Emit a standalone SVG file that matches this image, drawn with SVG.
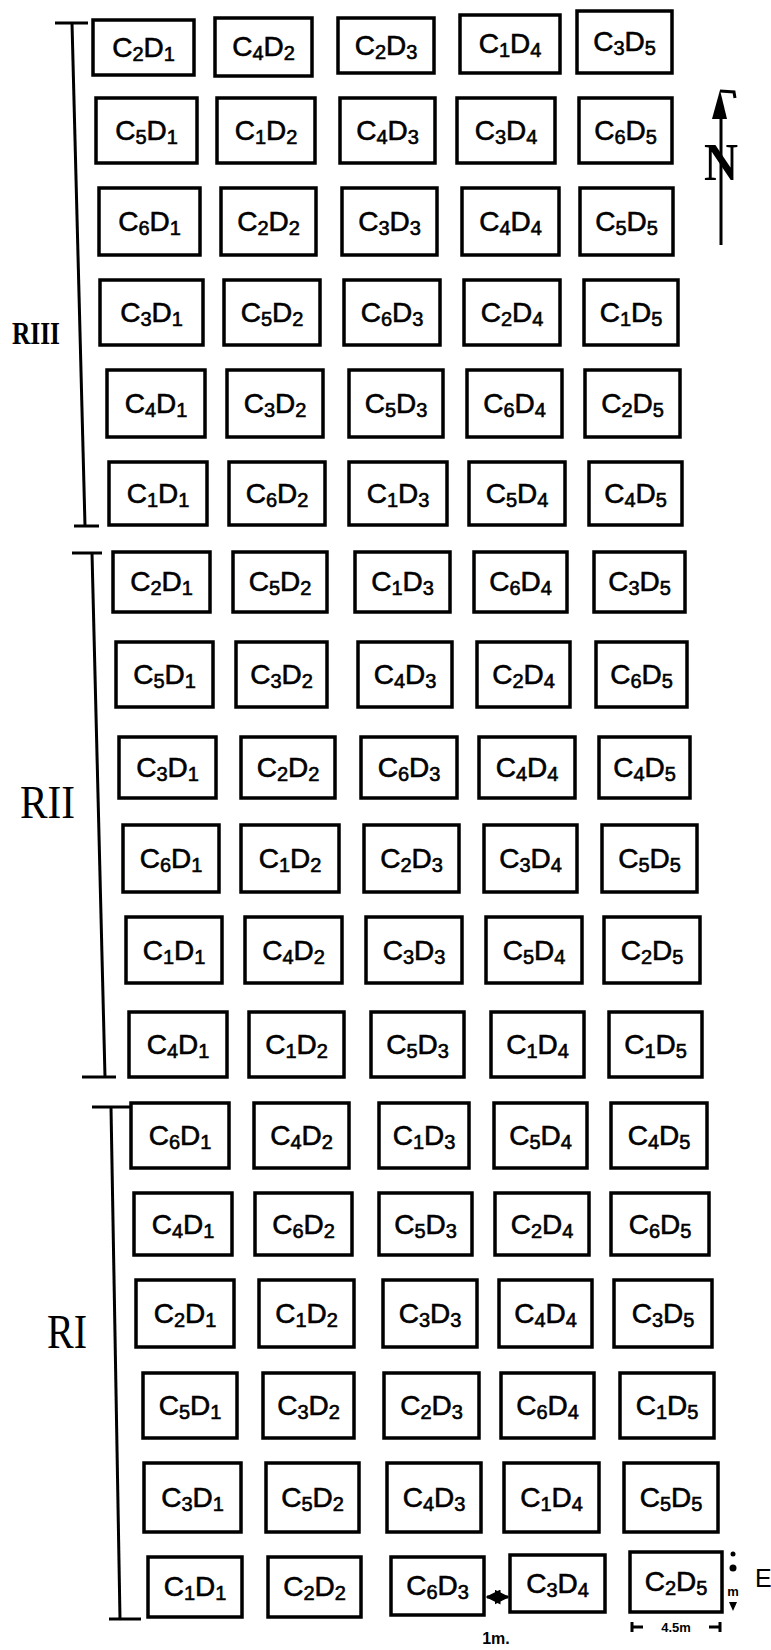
<svg xmlns="http://www.w3.org/2000/svg" width="771" height="1650" viewBox="0 0 771 1650">
<style>
.b{fill:none;stroke:#000;stroke-width:3.5}
.t{font-family:"Liberation Sans",Arial,sans-serif;font-size:28px;fill:#000;stroke:#000;stroke-width:0.6;text-anchor:middle}
.s{font-size:20px}
.l{stroke:#000;stroke-width:3;fill:none}
.lab{font-family:"Liberation Serif","Times New Roman",serif;fill:#000}
.dim{font-family:"Liberation Sans",Arial,sans-serif;font-weight:bold;fill:#000}
</style>
<defs>
<marker id="ah" viewBox="0 0 10 10" refX="9" refY="5" markerWidth="5" markerHeight="5" orient="auto-start-reverse" markerUnits="strokeWidth">
<path d="M0,0 L10,5 L0,10 z" fill="#000"/>
</marker>
</defs>
<rect width="771" height="1650" fill="#fff"/>

<!-- replication brackets and labels -->
<g id="RIII">
<line class="l" x1="72" y1="23" x2="85" y2="526"/>
<line class="l" x1="55" y1="23" x2="88" y2="23"/>
<line class="l" x1="74" y1="526" x2="99" y2="526"/>
<text class="lab" x="12" y="344" font-size="32" font-weight="bold" textLength="48" lengthAdjust="spacingAndGlyphs">RIII</text>
</g>
<g id="RII">
<line class="l" x1="92" y1="553" x2="105" y2="1077"/>
<line class="l" x1="72" y1="553" x2="102" y2="553"/>
<line class="l" x1="82" y1="1077" x2="116" y2="1077"/>
<text class="lab" x="20" y="818" font-size="46" textLength="55" lengthAdjust="spacingAndGlyphs">RII</text>
</g>
<g id="RI">
<line class="l" x1="111" y1="1107" x2="120" y2="1619"/>
<line class="l" x1="92" y1="1107" x2="131" y2="1107"/>
<line class="l" x1="109" y1="1619" x2="141" y2="1619"/>
<text class="lab" x="47" y="1348" font-size="48" textLength="40" lengthAdjust="spacingAndGlyphs">RI</text>
</g>

<!-- north arrow -->
<g id="north">
<line class="l" x1="721" y1="245" x2="721" y2="104"/>
<path d="M720,90 L712,119 L727,119 Z" fill="#000"/>
<path d="M720,91 L734,92 L735,98" class="l" stroke-width="2.5"/>
<text class="lab" x="704" y="180" font-size="52" font-weight="bold" textLength="34" lengthAdjust="spacingAndGlyphs">N</text>
</g>

<!-- Row 1 -->
<g id="r1c1"><rect class="b" x="93" y="20" width="101" height="55"/><text class="t" x="143.5" y="57">C<tspan class="s" dy="4">2</tspan><tspan dy="-4">D</tspan><tspan class="s" dy="4">1</tspan></text></g>
<g id="r1c2"><rect class="b" x="215" y="18" width="97" height="58"/><text class="t" x="263.5" y="56">C<tspan class="s" dy="4">4</tspan><tspan dy="-4">D</tspan><tspan class="s" dy="4">2</tspan></text></g>
<g id="r1c3"><rect class="b" x="338" y="18" width="96" height="55"/><text class="t" x="386" y="55">C<tspan class="s" dy="4">2</tspan><tspan dy="-4">D</tspan><tspan class="s" dy="4">3</tspan></text></g>
<g id="r1c4"><rect class="b" x="460" y="15" width="100" height="58"/><text class="t" x="510" y="53">C<tspan class="s" dy="4">1</tspan><tspan dy="-4">D</tspan><tspan class="s" dy="4">4</tspan></text></g>
<g id="r1c5"><rect class="b" x="577" y="11" width="95" height="62"/><text class="t" x="624.5" y="51">C<tspan class="s" dy="4">3</tspan><tspan dy="-4">D</tspan><tspan class="s" dy="4">5</tspan></text></g>

<!-- Row 2 -->
<g id="r2c1"><rect class="b" x="96" y="98" width="101" height="65"/><text class="t" x="146.5" y="140">C<tspan class="s" dy="4">5</tspan><tspan dy="-4">D</tspan><tspan class="s" dy="4">1</tspan></text></g>
<g id="r2c2"><rect class="b" x="217" y="98" width="98" height="65"/><text class="t" x="266" y="140">C<tspan class="s" dy="4">1</tspan><tspan dy="-4">D</tspan><tspan class="s" dy="4">2</tspan></text></g>
<g id="r2c3"><rect class="b" x="340" y="98" width="95" height="65"/><text class="t" x="387.5" y="140">C<tspan class="s" dy="4">4</tspan><tspan dy="-4">D</tspan><tspan class="s" dy="4">3</tspan></text></g>
<g id="r2c4"><rect class="b" x="457" y="98" width="98" height="65"/><text class="t" x="506" y="140">C<tspan class="s" dy="4">3</tspan><tspan dy="-4">D</tspan><tspan class="s" dy="4">4</tspan></text></g>
<g id="r2c5"><rect class="b" x="579" y="98" width="93" height="65"/><text class="t" x="625.5" y="140">C<tspan class="s" dy="4">6</tspan><tspan dy="-4">D</tspan><tspan class="s" dy="4">5</tspan></text></g>

<!-- Row 3 -->
<g id="r3c1"><rect class="b" x="99" y="188" width="101" height="67"/><text class="t" x="149.5" y="231">C<tspan class="s" dy="4">6</tspan><tspan dy="-4">D</tspan><tspan class="s" dy="4">1</tspan></text></g>
<g id="r3c2"><rect class="b" x="221" y="188" width="95" height="67"/><text class="t" x="268.5" y="231">C<tspan class="s" dy="4">2</tspan><tspan dy="-4">D</tspan><tspan class="s" dy="4">2</tspan></text></g>
<g id="r3c3"><rect class="b" x="342" y="188" width="95" height="67"/><text class="t" x="389.5" y="231">C<tspan class="s" dy="4">3</tspan><tspan dy="-4">D</tspan><tspan class="s" dy="4">3</tspan></text></g>
<g id="r3c4"><rect class="b" x="462" y="188" width="97" height="67"/><text class="t" x="510.5" y="231">C<tspan class="s" dy="4">4</tspan><tspan dy="-4">D</tspan><tspan class="s" dy="4">4</tspan></text></g>
<g id="r3c5"><rect class="b" x="580" y="188" width="93" height="67"/><text class="t" x="626.5" y="231">C<tspan class="s" dy="4">5</tspan><tspan dy="-4">D</tspan><tspan class="s" dy="4">5</tspan></text></g>

<!-- Row 4 -->
<g id="r4c1"><rect class="b" x="100" y="280" width="103" height="65"/><text class="t" x="151.5" y="322">C<tspan class="s" dy="4">3</tspan><tspan dy="-4">D</tspan><tspan class="s" dy="4">1</tspan></text></g>
<g id="r4c2"><rect class="b" x="224" y="280" width="96" height="65"/><text class="t" x="272" y="322">C<tspan class="s" dy="4">5</tspan><tspan dy="-4">D</tspan><tspan class="s" dy="4">2</tspan></text></g>
<g id="r4c3"><rect class="b" x="344" y="280" width="96" height="65"/><text class="t" x="392" y="322">C<tspan class="s" dy="4">6</tspan><tspan dy="-4">D</tspan><tspan class="s" dy="4">3</tspan></text></g>
<g id="r4c4"><rect class="b" x="464" y="280" width="96" height="65"/><text class="t" x="512" y="322">C<tspan class="s" dy="4">2</tspan><tspan dy="-4">D</tspan><tspan class="s" dy="4">4</tspan></text></g>
<g id="r4c5"><rect class="b" x="584" y="280" width="94" height="65"/><text class="t" x="631" y="322">C<tspan class="s" dy="4">1</tspan><tspan dy="-4">D</tspan><tspan class="s" dy="4">5</tspan></text></g>

<!-- Row 5 -->
<g id="r5c1"><rect class="b" x="107" y="370" width="98" height="67"/><text class="t" x="156" y="413">C<tspan class="s" dy="4">4</tspan><tspan dy="-4">D</tspan><tspan class="s" dy="4">1</tspan></text></g>
<g id="r5c2"><rect class="b" x="227" y="370" width="96" height="67"/><text class="t" x="275" y="413">C<tspan class="s" dy="4">3</tspan><tspan dy="-4">D</tspan><tspan class="s" dy="4">2</tspan></text></g>
<g id="r5c3"><rect class="b" x="349" y="370" width="94" height="67"/><text class="t" x="396" y="413">C<tspan class="s" dy="4">5</tspan><tspan dy="-4">D</tspan><tspan class="s" dy="4">3</tspan></text></g>
<g id="r5c4"><rect class="b" x="467" y="370" width="95" height="67"/><text class="t" x="514.5" y="413">C<tspan class="s" dy="4">6</tspan><tspan dy="-4">D</tspan><tspan class="s" dy="4">4</tspan></text></g>
<g id="r5c5"><rect class="b" x="585" y="370" width="95" height="67"/><text class="t" x="632.5" y="413">C<tspan class="s" dy="4">2</tspan><tspan dy="-4">D</tspan><tspan class="s" dy="4">5</tspan></text></g>

<!-- Row 6 -->
<g id="r6c1"><rect class="b" x="109" y="462" width="98" height="63"/><text class="t" x="158" y="503">C<tspan class="s" dy="4">1</tspan><tspan dy="-4">D</tspan><tspan class="s" dy="4">1</tspan></text></g>
<g id="r6c2"><rect class="b" x="229" y="462" width="96" height="63"/><text class="t" x="277" y="503">C<tspan class="s" dy="4">6</tspan><tspan dy="-4">D</tspan><tspan class="s" dy="4">2</tspan></text></g>
<g id="r6c3"><rect class="b" x="349" y="462" width="98" height="63"/><text class="t" x="398" y="503">C<tspan class="s" dy="4">1</tspan><tspan dy="-4">D</tspan><tspan class="s" dy="4">3</tspan></text></g>
<g id="r6c4"><rect class="b" x="469" y="462" width="96" height="63"/><text class="t" x="517" y="503">C<tspan class="s" dy="4">5</tspan><tspan dy="-4">D</tspan><tspan class="s" dy="4">4</tspan></text></g>
<g id="r6c5"><rect class="b" x="589" y="462" width="93" height="63"/><text class="t" x="635.5" y="503">C<tspan class="s" dy="4">4</tspan><tspan dy="-4">D</tspan><tspan class="s" dy="4">5</tspan></text></g>

<!-- Row 7 -->
<g id="r7c1"><rect class="b" x="113" y="552" width="97" height="60"/><text class="t" x="161.5" y="591">C<tspan class="s" dy="4">2</tspan><tspan dy="-4">D</tspan><tspan class="s" dy="4">1</tspan></text></g>
<g id="r7c2"><rect class="b" x="233" y="552" width="94" height="60"/><text class="t" x="280" y="591">C<tspan class="s" dy="4">5</tspan><tspan dy="-4">D</tspan><tspan class="s" dy="4">2</tspan></text></g>
<g id="r7c3"><rect class="b" x="355" y="552" width="95" height="60"/><text class="t" x="402.5" y="591">C<tspan class="s" dy="4">1</tspan><tspan dy="-4">D</tspan><tspan class="s" dy="4">3</tspan></text></g>
<g id="r7c4"><rect class="b" x="474" y="552" width="93" height="60"/><text class="t" x="520.5" y="591">C<tspan class="s" dy="4">6</tspan><tspan dy="-4">D</tspan><tspan class="s" dy="4">4</tspan></text></g>
<g id="r7c5"><rect class="b" x="594" y="552" width="91" height="60"/><text class="t" x="639.5" y="591">C<tspan class="s" dy="4">3</tspan><tspan dy="-4">D</tspan><tspan class="s" dy="4">5</tspan></text></g>

<!-- Row 8 -->
<g id="r8c1"><rect class="b" x="116" y="642" width="97" height="65"/><text class="t" x="164.5" y="684">C<tspan class="s" dy="4">5</tspan><tspan dy="-4">D</tspan><tspan class="s" dy="4">1</tspan></text></g>
<g id="r8c2"><rect class="b" x="236" y="642" width="91" height="65"/><text class="t" x="281.5" y="684">C<tspan class="s" dy="4">3</tspan><tspan dy="-4">D</tspan><tspan class="s" dy="4">2</tspan></text></g>
<g id="r8c3"><rect class="b" x="358" y="642" width="94" height="65"/><text class="t" x="405" y="684">C<tspan class="s" dy="4">4</tspan><tspan dy="-4">D</tspan><tspan class="s" dy="4">3</tspan></text></g>
<g id="r8c4"><rect class="b" x="477" y="642" width="93" height="65"/><text class="t" x="523.5" y="684">C<tspan class="s" dy="4">2</tspan><tspan dy="-4">D</tspan><tspan class="s" dy="4">4</tspan></text></g>
<g id="r8c5"><rect class="b" x="596" y="642" width="91" height="65"/><text class="t" x="641.5" y="684">C<tspan class="s" dy="4">6</tspan><tspan dy="-4">D</tspan><tspan class="s" dy="4">5</tspan></text></g>

<!-- Row 9 -->
<g id="r9c1"><rect class="b" x="119" y="737" width="97" height="61"/><text class="t" x="167.5" y="777">C<tspan class="s" dy="4">3</tspan><tspan dy="-4">D</tspan><tspan class="s" dy="4">1</tspan></text></g>
<g id="r9c2"><rect class="b" x="241" y="737" width="94" height="61"/><text class="t" x="288" y="777">C<tspan class="s" dy="4">2</tspan><tspan dy="-4">D</tspan><tspan class="s" dy="4">2</tspan></text></g>
<g id="r9c3"><rect class="b" x="361" y="737" width="96" height="61"/><text class="t" x="409" y="777">C<tspan class="s" dy="4">6</tspan><tspan dy="-4">D</tspan><tspan class="s" dy="4">3</tspan></text></g>
<g id="r9c4"><rect class="b" x="479" y="737" width="96" height="61"/><text class="t" x="527" y="777">C<tspan class="s" dy="4">4</tspan><tspan dy="-4">D</tspan><tspan class="s" dy="4">4</tspan></text></g>
<g id="r9c5"><rect class="b" x="599" y="737" width="91" height="61"/><text class="t" x="644.5" y="777">C<tspan class="s" dy="4">4</tspan><tspan dy="-4">D</tspan><tspan class="s" dy="4">5</tspan></text></g>

<!-- Row 10 -->
<g id="r10c1"><rect class="b" x="123" y="825" width="96" height="67"/><text class="t" x="171" y="868">C<tspan class="s" dy="4">6</tspan><tspan dy="-4">D</tspan><tspan class="s" dy="4">1</tspan></text></g>
<g id="r10c2"><rect class="b" x="241" y="825" width="98" height="67"/><text class="t" x="290" y="868">C<tspan class="s" dy="4">1</tspan><tspan dy="-4">D</tspan><tspan class="s" dy="4">2</tspan></text></g>
<g id="r10c3"><rect class="b" x="364" y="825" width="95" height="67"/><text class="t" x="411.5" y="868">C<tspan class="s" dy="4">2</tspan><tspan dy="-4">D</tspan><tspan class="s" dy="4">3</tspan></text></g>
<g id="r10c4"><rect class="b" x="484" y="825" width="93" height="67"/><text class="t" x="530.5" y="868">C<tspan class="s" dy="4">3</tspan><tspan dy="-4">D</tspan><tspan class="s" dy="4">4</tspan></text></g>
<g id="r10c5"><rect class="b" x="602" y="825" width="95" height="67"/><text class="t" x="649.5" y="868">C<tspan class="s" dy="4">5</tspan><tspan dy="-4">D</tspan><tspan class="s" dy="4">5</tspan></text></g>

<!-- Row 11 -->
<g id="r11c1"><rect class="b" x="126" y="917" width="96" height="66"/><text class="t" x="174" y="960">C<tspan class="s" dy="4">1</tspan><tspan dy="-4">D</tspan><tspan class="s" dy="4">1</tspan></text></g>
<g id="r11c2"><rect class="b" x="245" y="917" width="97" height="66"/><text class="t" x="293.5" y="960">C<tspan class="s" dy="4">4</tspan><tspan dy="-4">D</tspan><tspan class="s" dy="4">2</tspan></text></g>
<g id="r11c3"><rect class="b" x="366" y="917" width="96" height="66"/><text class="t" x="414" y="960">C<tspan class="s" dy="4">3</tspan><tspan dy="-4">D</tspan><tspan class="s" dy="4">3</tspan></text></g>
<g id="r11c4"><rect class="b" x="486" y="917" width="96" height="66"/><text class="t" x="534" y="960">C<tspan class="s" dy="4">5</tspan><tspan dy="-4">D</tspan><tspan class="s" dy="4">4</tspan></text></g>
<g id="r11c5"><rect class="b" x="604" y="917" width="96" height="66"/><text class="t" x="652" y="960">C<tspan class="s" dy="4">2</tspan><tspan dy="-4">D</tspan><tspan class="s" dy="4">5</tspan></text></g>

<!-- Row 12 -->
<g id="r12c1"><rect class="b" x="129" y="1012" width="98" height="65"/><text class="t" x="178" y="1054">C<tspan class="s" dy="4">4</tspan><tspan dy="-4">D</tspan><tspan class="s" dy="4">1</tspan></text></g>
<g id="r12c2"><rect class="b" x="249" y="1012" width="95" height="65"/><text class="t" x="296.5" y="1054">C<tspan class="s" dy="4">1</tspan><tspan dy="-4">D</tspan><tspan class="s" dy="4">2</tspan></text></g>
<g id="r12c3"><rect class="b" x="371" y="1012" width="93" height="65"/><text class="t" x="417.5" y="1054">C<tspan class="s" dy="4">5</tspan><tspan dy="-4">D</tspan><tspan class="s" dy="4">3</tspan></text></g>
<g id="r12c4"><rect class="b" x="491" y="1012" width="93" height="65"/><text class="t" x="537.5" y="1054">C<tspan class="s" dy="4">1</tspan><tspan dy="-4">D</tspan><tspan class="s" dy="4">4</tspan></text></g>
<g id="r12c5"><rect class="b" x="609" y="1012" width="93" height="65"/><text class="t" x="655.5" y="1054">C<tspan class="s" dy="4">1</tspan><tspan dy="-4">D</tspan><tspan class="s" dy="4">5</tspan></text></g>

<!-- Row 13 -->
<g id="r13c1"><rect class="b" x="131" y="1103" width="98" height="65"/><text class="t" x="180" y="1145">C<tspan class="s" dy="4">6</tspan><tspan dy="-4">D</tspan><tspan class="s" dy="4">1</tspan></text></g>
<g id="r13c2"><rect class="b" x="254" y="1103" width="95" height="65"/><text class="t" x="301.5" y="1145">C<tspan class="s" dy="4">4</tspan><tspan dy="-4">D</tspan><tspan class="s" dy="4">2</tspan></text></g>
<g id="r13c3"><rect class="b" x="379" y="1103" width="90" height="65"/><text class="t" x="424" y="1145">C<tspan class="s" dy="4">1</tspan><tspan dy="-4">D</tspan><tspan class="s" dy="4">3</tspan></text></g>
<g id="r13c4"><rect class="b" x="494" y="1103" width="93" height="65"/><text class="t" x="540.5" y="1145">C<tspan class="s" dy="4">5</tspan><tspan dy="-4">D</tspan><tspan class="s" dy="4">4</tspan></text></g>
<g id="r13c5"><rect class="b" x="611" y="1103" width="96" height="65"/><text class="t" x="659" y="1145">C<tspan class="s" dy="4">4</tspan><tspan dy="-4">D</tspan><tspan class="s" dy="4">5</tspan></text></g>

<!-- Row 14 -->
<g id="r14c1"><rect class="b" x="134" y="1193" width="98" height="62"/><text class="t" x="183" y="1234">C<tspan class="s" dy="4">4</tspan><tspan dy="-4">D</tspan><tspan class="s" dy="4">1</tspan></text></g>
<g id="r14c2"><rect class="b" x="255" y="1193" width="97" height="62"/><text class="t" x="303.5" y="1234">C<tspan class="s" dy="4">6</tspan><tspan dy="-4">D</tspan><tspan class="s" dy="4">2</tspan></text></g>
<g id="r14c3"><rect class="b" x="379" y="1193" width="93" height="62"/><text class="t" x="425.5" y="1234">C<tspan class="s" dy="4">5</tspan><tspan dy="-4">D</tspan><tspan class="s" dy="4">3</tspan></text></g>
<g id="r14c4"><rect class="b" x="495" y="1193" width="94" height="62"/><text class="t" x="542" y="1234">C<tspan class="s" dy="4">2</tspan><tspan dy="-4">D</tspan><tspan class="s" dy="4">4</tspan></text></g>
<g id="r14c5"><rect class="b" x="611" y="1193" width="98" height="62"/><text class="t" x="660" y="1234">C<tspan class="s" dy="4">6</tspan><tspan dy="-4">D</tspan><tspan class="s" dy="4">5</tspan></text></g>

<!-- Row 15 -->
<g id="r15c1"><rect class="b" x="136" y="1280" width="98" height="67"/><text class="t" x="185" y="1323">C<tspan class="s" dy="4">2</tspan><tspan dy="-4">D</tspan><tspan class="s" dy="4">1</tspan></text></g>
<g id="r15c2"><rect class="b" x="259" y="1280" width="95" height="67"/><text class="t" x="306.5" y="1323">C<tspan class="s" dy="4">1</tspan><tspan dy="-4">D</tspan><tspan class="s" dy="4">2</tspan></text></g>
<g id="r15c3"><rect class="b" x="383" y="1280" width="94" height="67"/><text class="t" x="430" y="1323">C<tspan class="s" dy="4">3</tspan><tspan dy="-4">D</tspan><tspan class="s" dy="4">3</tspan></text></g>
<g id="r15c4"><rect class="b" x="499" y="1280" width="93" height="67"/><text class="t" x="545.5" y="1323">C<tspan class="s" dy="4">4</tspan><tspan dy="-4">D</tspan><tspan class="s" dy="4">4</tspan></text></g>
<g id="r15c5"><rect class="b" x="614" y="1280" width="98" height="67"/><text class="t" x="663" y="1323">C<tspan class="s" dy="4">3</tspan><tspan dy="-4">D</tspan><tspan class="s" dy="4">5</tspan></text></g>

<!-- Row 16 -->
<g id="r16c1"><rect class="b" x="143" y="1373" width="94" height="65"/><text class="t" x="190" y="1415">C<tspan class="s" dy="4">5</tspan><tspan dy="-4">D</tspan><tspan class="s" dy="4">1</tspan></text></g>
<g id="r16c2"><rect class="b" x="263" y="1373" width="91" height="65"/><text class="t" x="308.5" y="1415">C<tspan class="s" dy="4">3</tspan><tspan dy="-4">D</tspan><tspan class="s" dy="4">2</tspan></text></g>
<g id="r16c3"><rect class="b" x="384" y="1373" width="95" height="65"/><text class="t" x="431.5" y="1415">C<tspan class="s" dy="4">2</tspan><tspan dy="-4">D</tspan><tspan class="s" dy="4">3</tspan></text></g>
<g id="r16c4"><rect class="b" x="501" y="1373" width="93" height="65"/><text class="t" x="547.5" y="1415">C<tspan class="s" dy="4">6</tspan><tspan dy="-4">D</tspan><tspan class="s" dy="4">4</tspan></text></g>
<g id="r16c5"><rect class="b" x="620" y="1373" width="94" height="65"/><text class="t" x="667" y="1415">C<tspan class="s" dy="4">1</tspan><tspan dy="-4">D</tspan><tspan class="s" dy="4">5</tspan></text></g>

<!-- Row 17 -->
<g id="r17c1"><rect class="b" x="144" y="1463" width="97" height="69"/><text class="t" x="192.5" y="1507">C<tspan class="s" dy="4">3</tspan><tspan dy="-4">D</tspan><tspan class="s" dy="4">1</tspan></text></g>
<g id="r17c2"><rect class="b" x="266" y="1463" width="93" height="69"/><text class="t" x="312.5" y="1507">C<tspan class="s" dy="4">5</tspan><tspan dy="-4">D</tspan><tspan class="s" dy="4">2</tspan></text></g>
<g id="r17c3"><rect class="b" x="387" y="1463" width="94" height="69"/><text class="t" x="434" y="1507">C<tspan class="s" dy="4">4</tspan><tspan dy="-4">D</tspan><tspan class="s" dy="4">3</tspan></text></g>
<g id="r17c4"><rect class="b" x="504" y="1463" width="95" height="69"/><text class="t" x="551.5" y="1507">C<tspan class="s" dy="4">1</tspan><tspan dy="-4">D</tspan><tspan class="s" dy="4">4</tspan></text></g>
<g id="r17c5"><rect class="b" x="624" y="1463" width="94" height="69"/><text class="t" x="671" y="1507">C<tspan class="s" dy="4">5</tspan><tspan dy="-4">D</tspan><tspan class="s" dy="4">5</tspan></text></g>

<!-- Row 18 -->
<g id="r18c1"><rect class="b" x="148" y="1557" width="94" height="60"/><text class="t" x="195" y="1596">C<tspan class="s" dy="4">1</tspan><tspan dy="-4">D</tspan><tspan class="s" dy="4">1</tspan></text></g>
<g id="r18c2"><rect class="b" x="268" y="1557" width="93" height="60"/><text class="t" x="314.5" y="1596">C<tspan class="s" dy="4">2</tspan><tspan dy="-4">D</tspan><tspan class="s" dy="4">2</tspan></text></g>
<g id="r18c3"><rect class="b" x="391" y="1557" width="93" height="58"/><text class="t" x="437.5" y="1595">C<tspan class="s" dy="4">6</tspan><tspan dy="-4">D</tspan><tspan class="s" dy="4">3</tspan></text></g>
<g id="r18c4"><rect class="b" x="510" y="1555" width="95" height="57"/><text class="t" x="557.5" y="1593">C<tspan class="s" dy="4">3</tspan><tspan dy="-4">D</tspan><tspan class="s" dy="4">4</tspan></text></g>
<g id="r18c5"><rect class="b" x="630" y="1552" width="92" height="60"/><text class="t" x="676" y="1591">C<tspan class="s" dy="4">2</tspan><tspan dy="-4">D</tspan><tspan class="s" dy="4">5</tspan></text></g>

<!-- dimensions -->
<g id="connectors">
<line class="l" x1="487" y1="1597" x2="508" y2="1597" stroke-width="2.5" marker-start="url(#ah)" marker-end="url(#ah)"/>
<line class="l" x1="632" y1="1627" x2="643" y2="1627" stroke-width="2"/>
<line class="l" x1="632" y1="1622" x2="632" y2="1632" stroke-width="2"/>
<line class="l" x1="709" y1="1627" x2="720" y2="1627" stroke-width="2"/>
<line class="l" x1="720" y1="1622" x2="720" y2="1632" stroke-width="2"/>
<circle cx="733" cy="1554" r="2.5" fill="#000"/>
<circle cx="733" cy="1568" r="3.5" fill="#000"/>
<path d="M729,1602 L737,1602 L733,1611 Z" fill="#000"/>
</g>
<g id="dimlabels">
<text class="dim" x="496" y="1644" font-size="16" text-anchor="middle">1m.</text>
<text class="dim" x="676" y="1632" font-size="13" text-anchor="middle">4.5m</text>
<text class="dim" x="733" y="1596" font-size="13" text-anchor="middle">m</text>
<text x="755" y="1587" font-family="Liberation Sans, Arial, sans-serif" font-size="25" fill="#000">E</text>
</g>
</svg>
